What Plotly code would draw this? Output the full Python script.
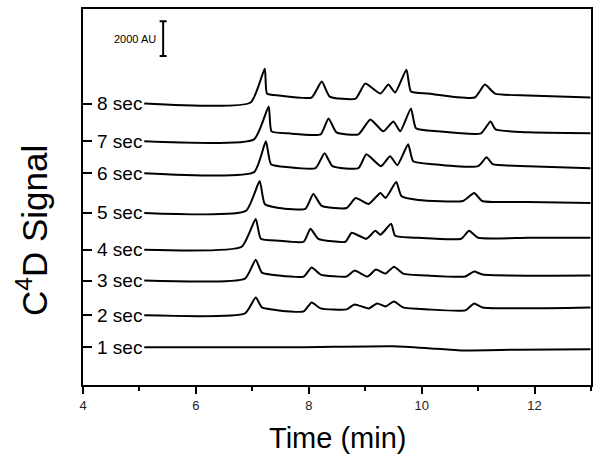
import plotly.graph_objects as go

# ---- data (time in min, signal in AU) ----
labels = ["8 sec", "7 sec", "6 sec", "5 sec", "4 sec", "3 sec", "2 sec", "1 sec"]

t_8s = [5.085, 6.97, 7.22, 7.26, 7.47, 8.05, 8.23, 8.37, 8.83, 9.00, 9.27, 9.41, 9.53, 9.73, 9.81, 10.11, 10.94, 11.12, 11.30, 11.88, 12.99]
s_8s = [16171, 16229, 18171, 16743, 16629, 16514, 17429, 16571, 16457, 17314, 16743, 17257, 16800, 18114, 16857, 16743, 16514, 17257, 16743, 16629, 16514]

t_7s = [5.085, 7.03, 7.29, 7.34, 7.64, 8.21, 8.35, 8.49, 8.88, 9.09, 9.32, 9.50, 9.62, 9.81, 9.90, 10.29, 11.05, 11.22, 11.31, 11.88, 12.99]
s_7s = [14000, 14114, 16000, 14571, 14457, 14400, 15314, 14514, 14400, 15257, 14571, 15143, 14571, 15886, 14743, 14571, 14457, 15143, 14686, 14514, 14457]

t_6s = [5.085, 7.03, 7.24, 7.33, 7.64, 8.12, 8.28, 8.42, 8.88, 9.02, 9.28, 9.44, 9.57, 9.76, 9.85, 10.20, 11.00, 11.15, 11.26, 11.88, 12.99]
s_6s = [12171, 12229, 14000, 12686, 12514, 12457, 13314, 12571, 12457, 13257, 12571, 13143, 12629, 13829, 12857, 12686, 12571, 13086, 12686, 12571, 12457]

t_5s = [5.085, 6.885, 7.13, 7.22, 7.47, 7.94, 8.08, 8.23, 8.67, 8.83, 9.06, 9.27, 9.36, 9.55, 9.64, 9.94, 10.73, 10.93, 11.07, 11.88, 12.99]
s_5s = [9886, 10000, 11714, 10400, 10171, 10114, 10971, 10286, 10171, 10743, 10400, 11029, 10743, 11657, 10857, 10629, 10571, 11029, 10571, 10514, 10457]

t_4s = [5.085, 6.81, 7.06, 7.15, 7.47, 7.91, 8.03, 8.17, 8.65, 8.76, 9.02, 9.18, 9.27, 9.46, 9.53, 9.94, 10.70, 10.84, 11.00, 11.88, 12.99]
s_4s = [7771, 7943, 9543, 8400, 8286, 8229, 8971, 8400, 8229, 8743, 8400, 8857, 8629, 9257, 8571, 8457, 8400, 8857, 8457, 8457, 8457]

t_3s = [5.085, 6.87, 7.06, 7.17, 7.47, 7.91, 8.05, 8.21, 8.67, 8.81, 9.04, 9.19, 9.36, 9.51, 9.67, 10.11, 10.77, 10.93, 11.08, 12.99]
s_3s = [6000, 6114, 7200, 6457, 6286, 6229, 6743, 6343, 6229, 6571, 6229, 6629, 6400, 6800, 6400, 6286, 6229, 6514, 6343, 6286]

t_2s = [5.085, 6.87, 7.06, 7.17, 7.47, 7.91, 8.05, 8.21, 8.67, 8.81, 9.06, 9.21, 9.36, 9.51, 9.67, 10.11, 10.77, 10.93, 11.08, 12.99]
s_2s = [4000, 4114, 5029, 4457, 4286, 4229, 4743, 4400, 4343, 4629, 4400, 4686, 4514, 4800, 4457, 4343, 4286, 4686, 4457, 4457]

t_1s = [5.085, 7.82, 9.50, 10.11, 10.64, 11.70, 12.99]
s_1s = [2171, 2171, 2229, 2114, 1990, 2030, 2057]

times = [t_8s, t_7s, t_6s, t_5s, t_4s, t_3s, t_2s, t_1s]
signals = [s_8s, s_7s, s_6s, s_5s, s_4s, s_3s, s_2s, s_1s]

scale_au = 2000
scale_x = 5.42
scale_center = 19900
label_x = 4.22

x_range = [4, 13]
y_range = [0, 21600]
x_ticks = [4, 6, 8, 10, 12]

FONT = "Arial, Liberation Sans, sans-serif"

fig = go.Figure()
for t, s in zip(times, signals):
    fig.add_trace(go.Scatter(x=t, y=s, mode="lines",
                             line=dict(color="black", width=2,
                                       shape="spline", smoothing=0.5),
                             hoverinfo="skip", showlegend=False))

# scale bar (2000 AU)
fig.add_trace(go.Scatter(x=[scale_x], y=[scale_center], mode="markers",
                         marker=dict(size=0.1, color="black"),
                         error_y=dict(type="data", array=[scale_au / 2],
                                      color="black", thickness=2, width=3.5),
                         showlegend=False, hoverinfo="skip"))

annotations = []
for lab, s in zip(labels, signals):
    annotations.append(dict(x=label_x, y=s[0], xref="x", yref="y", text=lab,
                            showarrow=False, xanchor="left", yanchor="middle",
                            font=dict(family=FONT, size=19, color="black")))
annotations.append(dict(x=4.93, y=scale_center, xref="x", yref="y",
                        text=f"{scale_au} AU", showarrow=False,
                        xanchor="center", yanchor="middle",
                        font=dict(family=FONT, size=11, color="black")))
annotations.append(dict(x=0.5, y=-0.14, xref="paper", yref="paper",
                        text="Time (min)", showarrow=False,
                        xanchor="center", yanchor="middle",
                        font=dict(family=FONT, size=29, color="black")))
annotations.append(dict(x=-0.1, y=0.41, xref="paper", yref="paper",
                        text="C<sup>4</sup>D Signal", showarrow=False,
                        textangle=-90, xanchor="center", yanchor="middle",
                        font=dict(family=FONT, size=35, color="black")))

fig.update_layout(
    width=600, height=462,
    margin=dict(l=83, r=7, t=7, b=77),
    paper_bgcolor="white", plot_bgcolor="white",
    annotations=annotations,
    xaxis=dict(range=x_range, tickvals=x_ticks, ticks="outside", ticklen=7,
               tickwidth=1.5, tickcolor="black",
               minor=dict(dtick=1, ticks="outside", ticklen=4, tickwidth=1.5,
                          tickcolor="black"),
               showline=True, linewidth=2, linecolor="black", mirror=True,
               showgrid=False, zeroline=False,
               tickfont=dict(family=FONT, size=13, color="#222")),
    yaxis=dict(range=y_range, tickvals=[s[0] for s in signals], ticks="inside",
               ticklen=9, tickwidth=1.5, tickcolor="black",
               showticklabels=False,
               showline=True, linewidth=2, linecolor="black", mirror=True,
               showgrid=False, zeroline=False),
)

fig.write_html("out.html", config={"displayModeBar": False},
               post_script="document.body.style.margin='0';document.body.style.overflow='hidden';")
